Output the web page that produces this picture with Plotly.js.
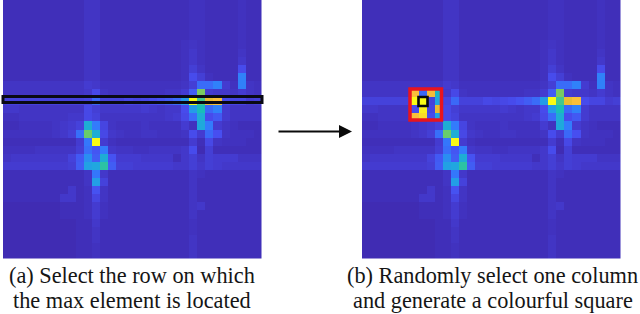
<!DOCTYPE html>
<html><head><meta charset="utf-8">
<script src="https://cdn.plot.ly/plotly-3.0.1.min.js"></script>
<style>html,body{margin:0;padding:0;background:#fff}#c{width:640px;height:314px}</style>
</head><body><div id="c"></div>
<script>
const heat = [
[3,3,3,3,3,3,3,3,3,3,5,5,3,3,3,3,3,3,3,3,3,3,3,4,4,3,3,3,3,4,3,3],
[3,3,3,3,3,3,3,3,3,3,5,5,3,3,3,3,3,3,3,3,3,3,3,4,4,3,3,3,3,4,3,3],
[3,3,3,3,3,3,3,3,3,3,5,5,3,3,3,3,3,3,3,3,3,3,3,4,4,3,3,3,3,4,3,3],
[3,3,3,3,3,3,3,3,3,3,5,5,3,3,3,3,3,3,3,3,3,3,3,4,4,3,3,3,3,4,3,3],
[3,3,3,3,3,3,3,3,3,3,5,5,3,3,3,3,3,3,3,3,3,3,3,4,4,3,3,3,3,4,3,3],
[3,3,3,3,3,3,3,3,3,3,5,5,3,3,3,3,3,3,3,3,3,3,4,5,4,3,3,3,3,4,3,3],
[3,3,3,3,3,3,3,3,3,3,5,5,3,3,3,3,3,3,3,3,3,3,4,6,4,3,3,3,3,5,3,3],
[3,3,3,3,3,3,3,3,3,3,5,5,3,3,3,3,3,3,3,3,3,3,4,6,4,3,3,3,3,6,3,3],
[3,3,3,3,3,3,3,3,3,3,5,5,3,3,3,3,3,3,3,3,3,3,4,8,5,3,3,3,3,12,3,3],
[3,3,3,3,3,3,3,3,3,3,5,5,3,3,3,3,3,3,3,3,3,3,4,12,8,4,3,3,3,27,3,3],
[5,5,5,5,5,5,5,5,5,5,7,6,4,4,4,4,4,4,4,4,4,4,5,8,21,21,27,7,4,27,5,4],
[5,5,5,5,5,5,5,5,5,5,6,11,5,4,4,4,4,4,4,4,5,5,7,17,66,7,6,6,5,7,5,4],
[9,9,9,9,9,9,9,9,9,9,10,20,9,9,9,11,10,11,12,14,17,21,35,100,58,80,84,12,10,10,7,8],
[6,6,5,5,5,5,5,5,5,5,11,8,6,6,6,6,6,7,6,5,6,6,12,35,50,20,27,7,5,5,5,5],
[4,4,5,5,5,5,5,5,6,6,11,9,5,5,5,5,5,5,5,5,6,7,11,21,42,12,16,7,5,5,5,5],
[3,3,4,4,4,4,5,6,7,9,42,25,10,5,4,4,4,5,4,4,4,4,7,4,40,25,7,5,4,3,3,3],
[4,4,4,4,4,4,5,6,8,22,64,42,11,6,5,4,4,5,5,4,4,4,5,12,7,20,13,5,4,4,4,3],
[3,3,3,3,3,3,3,3,3,7,24,100,7,4,3,3,3,3,3,3,3,3,3,7,3,11,5,4,4,4,3,3],
[4,4,4,4,5,5,5,5,5,8,22,15,25,6,5,5,4,4,5,5,5,5,6,12,2,8,3,3,3,3,3,3],
[5,6,6,6,6,6,6,6,9,16,31,17,42,14,7,7,7,6,6,6,6,3,6,8,5,8,7,7,7,5,5,5],
[7,7,7,7,7,7,7,7,8,17,37,39,54,17,8,8,7,7,7,7,7,6,6,8,6,8,7,6,6,6,6,6],
[3,3,3,3,3,3,3,3,3,3,5,24,6,3,3,3,3,3,3,3,3,3,3,5,4,3,3,3,3,3,3,3],
[3,3,3,3,3,3,3,3,3,3,5,36,9,3,3,3,3,3,3,3,3,3,3,5,3,3,3,3,3,3,3,3],
[3,3,3,3,3,3,3,3,6,3,4,14,5,3,3,3,3,3,3,3,3,3,3,5,3,3,3,3,3,3,3,3],
[3,3,3,3,3,3,3,6,6,3,4,10,5,3,3,3,3,3,3,3,3,3,3,5,3,3,3,3,3,3,3,3],
[2,2,2,2,2,2,2,3,3,3,4,7,4,3,3,3,3,3,3,3,3,3,3,5,6,3,3,3,3,3,3,3],
[2,2,2,2,2,2,2,3,3,3,4,7,4,3,3,3,3,3,3,3,3,3,3,5,3,3,3,3,3,3,3,3],
[2,2,2,2,2,2,2,2,2,3,3,6,3,3,3,3,3,3,3,3,3,3,3,4,3,3,3,3,3,3,3,3],
[2,2,2,2,2,2,2,2,2,3,3,5,3,3,3,3,3,3,3,3,3,3,3,4,3,3,3,3,3,3,3,3],
[2,2,2,2,2,2,2,2,2,3,3,5,3,3,3,3,3,3,3,3,3,3,3,5,3,3,3,3,3,3,3,3],
[2,2,2,2,2,2,2,2,2,3,3,4,3,3,3,3,3,3,3,3,3,3,3,5,3,3,3,3,3,3,3,3],
[2,2,2,2,2,2,2,2,2,3,3,4,3,3,3,3,3,3,3,3,3,3,3,5,3,3,3,3,3,3,3,3]
];
const patchRows = [11,12,13,14];
const patchCols = [6,7,8,9];
const patch = [
[84,20,82,46],
[100,100,9,38],
[12,97,10,80],
[84,92,12,38]
];
const captionA = ["(a) Select the row on which","the max element is located"];
const captionB = ["(b) Randomly select one column","and generate a colourful square"];
const parula = [
[0,"rgb(62,38,168)"],[0.127,"rgb(72,77,240)"],[0.254,"rgb(50,124,252)"],[0.381,"rgb(32,165,226)"],
[0.508,"rgb(25,191,182)"],[0.635,"rgb(100,205,111)"],[0.762,"rgb(209,191,39)"],[0.825,"rgb(248,186,61)"],
[0.889,"rgb(252,207,48)"],[1,"rgb(249,251,21)"]];

const W=640,H=314;
const heatB = heat.map(r=>r.slice());
patchRows.forEach((r,i)=>patchCols.forEach((c,j)=>{heatB[r][c]=patch[i][j];}));
const px=v=>v/W, py=v=>1-v/H;
const hm=(z,xa,ya)=>({type:"heatmap",z:z,xaxis:xa,yaxis:ya,colorscale:parula,zmin:0,zmax:100,showscale:false,zsmooth:false,hoverinfo:"skip"});
const ax=(d,extra)=>Object.assign({domain:d,showgrid:false,zeroline:false,showticklabels:false,ticks:"",showline:false,fixedrange:true},extra);
const font={family:"Liberation Serif",size:22.3,color:"#151515"};
const cap=(t,x,y)=>({xref:"paper",yref:"paper",x:px(x),y:py(y),text:t,showarrow:false,xanchor:"center",yanchor:"middle",font:font});
const rect=(x0,y0,x1,y1,c,w)=>({type:"rect",xref:"paper",yref:"paper",x0:px(x0),x1:px(x1),y0:py(y0),y1:py(y1),line:{color:c,width:w},fillcolor:"rgba(0,0,0,0)",layer:"above"});
Plotly.newPlot("c",[hm(heat,"x","y"),hm(heatB,"x2","y2")],{
 width:W,height:H,margin:{l:0,r:0,t:0,b:0,pad:0},paper_bgcolor:"#fff",plot_bgcolor:"#fff",showlegend:false,
 xaxis:ax([3/W,261.5/W],{range:[-0.5,31.5]}),
 yaxis:ax([1-258.5/H,1],{range:[31.5,-0.5]}),
 xaxis2:ax([362/W,620.5/W],{range:[-0.5,31.5]}),
 yaxis2:ax([1-258.5/H,1],{range:[31.5,-0.5]}),
 shapes:[
  rect(3,96.5,262,102.5,"#0a0a14",3),
  rect(410,89,441.5,120,"#e8141e",3.5),
  rect(418.5,97,427.5,106,"#08080c",2.6)
 ],
 annotations:[
  cap(captionA[0],132,275),cap(captionA[1],132,300.5),
  cap(captionB[0],492.5,275),cap(captionB[1],492.5,300.5),
  {xref:"paper",yref:"paper",x:px(352),y:py(131.5),ax:-75,ay:0,axref:"pixel",ayref:"pixel",text:"",showarrow:true,arrowhead:2,arrowsize:1.3,arrowwidth:2,arrowcolor:"#0a0a0a"}
 ]
},{staticPlot:true,displayModeBar:false});
</script></body></html>
